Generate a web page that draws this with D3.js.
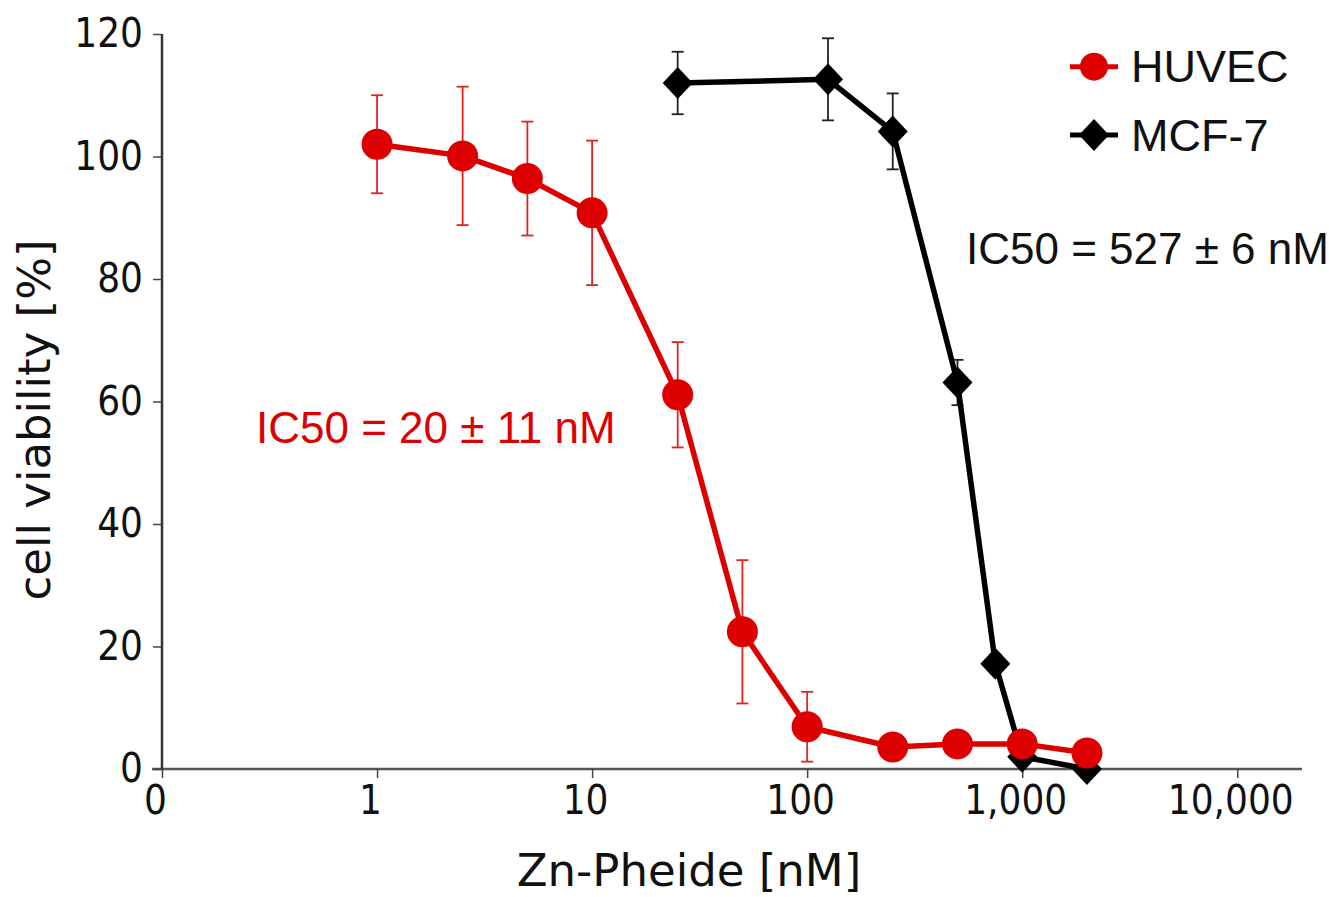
<!DOCTYPE html>
<html>
<head>
<meta charset="utf-8">
<script src="https://cdn.jsdelivr.net/npm/d3@7"></script>
<style>
  html, body { margin: 0; padding: 0; background: #fff; }
  svg { display: block; }
</style>
</head>
<body>
<svg id="chart" width="1329" height="897"></svg>
<script>
// concentrations in nM
const huvecConc  = [1, 2.5, 5, 10, 25, 50, 100, 250, 500, 1000, 2000];
const huvecVal   = [102.0, 100.1, 96.4, 90.8, 61.1, 22.4, 6.9, 3.6, 4.1, 4.1, 2.6];
const huvecErr   = [8.0, 11.3, 9.3, 11.8, 8.6, 11.7, 5.7, 0, 0, 0, 0];

const mcfConc    = [25, 125, 250, 500, 750, 1000, 2000];
const mcfVal     = [112.0, 112.6, 104.1, 63.1, 17.2, 2.0, 0.0];
const mcfErr     = [5.1, 6.7, 6.2, 3.7, 1.5, 0, 0];

const xTicks     = [0.1, 1, 10, 100, 1000, 10000];
const yTicks     = [0, 20, 40, 60, 80, 100, 120];
const seriesNames = ['HUVEC', 'MCF-7'];
const ic50Labels  = ['IC50 = 20 \u00b1 11 nM', 'IC50 = 527 \u00b1 6 nM'];

const RED = '#dd0000';
const tickFont  = '"DejaVu Sans Condensed", "DejaVu Sans", sans-serif';
const titleFont = '"DejaVu Sans", sans-serif';
const labelFont = '"Liberation Sans", Arial, sans-serif';

const svg = d3.select('#chart');

const x = d3.scaleLog().domain([0.1, 20000]).range([162, 1302]);
const y = d3.scaleLinear().domain([0, 120]).range([769, 34]);

const huvec = huvecConc.map((c, i) => ({ x: c, y: huvecVal[i], e: huvecErr[i] }));
const mcf   = mcfConc.map((c, i) => ({ x: c, y: mcfVal[i], e: mcfErr[i] }));

// axes
const gx = svg.append('g').attr('transform', `translate(0,${y(0)})`)
    .call(d3.axisBottom(x).tickValues(xTicks).tickSize(9).tickPadding(8)
        .tickFormat(v => v < 1 ? '0' : d3.format(',')(v)));
const gy = svg.append('g').attr('transform', `translate(${x(0.1)},0)`)
    .call(d3.axisLeft(y).tickValues(yTicks).tickSize(9).tickPadding(10));

[gx, gy].forEach(g => {
    g.select('.domain').attr('stroke', '#555').attr('stroke-width', 2.5);
    g.selectAll('.tick line').attr('stroke', '#444').attr('stroke-width', 1.5);
    g.selectAll('.tick text').attr('fill', '#111')
        .style('font-family', tickFont).style('font-size', '40px');
});
gx.selectAll('.tick text').attr('dx', -7);
gx.select('.domain').attr('d', `M${x(0.1) - 10},0H${x(20000)}`);
gy.select('.domain').attr('stroke', '#333').attr('d', `M0,${y(120)}V${y(0)}`);

// axis titles
svg.append('text')
    .attr('x', 689).attr('y', 886)
    .attr('text-anchor', 'middle')
    .style('font-family', titleFont).style('font-size', '45px')
    .attr('fill', '#111')
    .text('Zn-Pheide [nM]');

svg.append('text')
    .attr('transform', 'translate(50,420) rotate(-90)')
    .attr('text-anchor', 'middle')
    .style('font-family', titleFont).style('font-size', '45px')
    .attr('fill', '#111')
    .text('cell viability [%]');

const lineGen = d3.line().x(d => x(d.x)).y(d => y(d.y));
const diamond = 'M0,-16L15,0L0,16L-15,0Z';

function errorBars(data, col, cls) {
    const withErr = data.filter(d => d.e > 0);
    const g = svg.append('g').attr('stroke', col).attr('stroke-width', 1.8).attr('fill', 'none');
    g.selectAll(`.${cls}v`).data(withErr).join('line')
        .attr('x1', d => x(d.x)).attr('x2', d => x(d.x))
        .attr('y1', d => y(d.y + d.e)).attr('y2', d => y(d.y - d.e));
    g.selectAll(`.${cls}t`).data(withErr).join('line')
        .attr('x1', d => x(d.x) - 6).attr('x2', d => x(d.x) + 6)
        .attr('y1', d => y(d.y + d.e)).attr('y2', d => y(d.y + d.e));
    g.selectAll(`.${cls}b`).data(withErr).join('line')
        .attr('x1', d => x(d.x) - 6).attr('x2', d => x(d.x) + 6)
        .attr('y1', d => y(d.y - d.e)).attr('y2', d => y(d.y - d.e));
}

// MCF-7 (drawn underneath)
errorBars(mcf, '#222', 'me');
svg.append('path').datum(mcf)
    .attr('fill', 'none').attr('stroke', '#000').attr('stroke-width', 5.5)
    .attr('stroke-linejoin', 'round').attr('d', lineGen);
svg.selectAll('.md').data(mcf).join('path')
    .attr('class', 'md')
    .attr('transform', d => `translate(${x(d.x)},${y(d.y)})`)
    .attr('d', diamond).attr('fill', '#000');

// HUVEC
errorBars(huvec, '#e82020', 'he');
svg.append('path').datum(huvec)
    .attr('fill', 'none').attr('stroke', RED).attr('stroke-width', 5.5)
    .attr('stroke-linejoin', 'round').attr('d', lineGen);
svg.selectAll('.hd').data(huvec).join('circle')
    .attr('class', 'hd')
    .attr('cx', d => x(d.x)).attr('cy', d => y(d.y))
    .attr('r', 15.5).attr('fill', RED);

// IC50 annotations
svg.append('text').attr('x', 256).attr('y', 443)
    .style('font-family', labelFont).style('font-size', '44px')
    .attr('fill', RED).text(ic50Labels[0]);
svg.append('text').attr('x', 966).attr('y', 264)
    .style('font-family', labelFont).style('font-size', '44px')
    .attr('fill', '#111').text(ic50Labels[1]);

// legend
const leg = svg.append('g');
[66.7, 135].forEach((ly, i) => {
    const col = i === 0 ? RED : '#000';
    leg.append('line').attr('x1', 1070).attr('x2', 1118).attr('y1', ly).attr('y2', ly)
        .attr('stroke', col).attr('stroke-width', 5);
    if (i === 0) {
        leg.append('circle').attr('cx', 1094).attr('cy', ly).attr('r', 14).attr('fill', col);
    } else {
        leg.append('path').attr('transform', `translate(1094,${ly})`).attr('d', diamond).attr('fill', col);
    }
    leg.append('text').attr('x', 1131).attr('y', ly + 15.5)
        .style('font-family', labelFont).style('font-size', '45px')
        .attr('fill', '#111').text(seriesNames[i]);
});
</script>
</body>
</html>
